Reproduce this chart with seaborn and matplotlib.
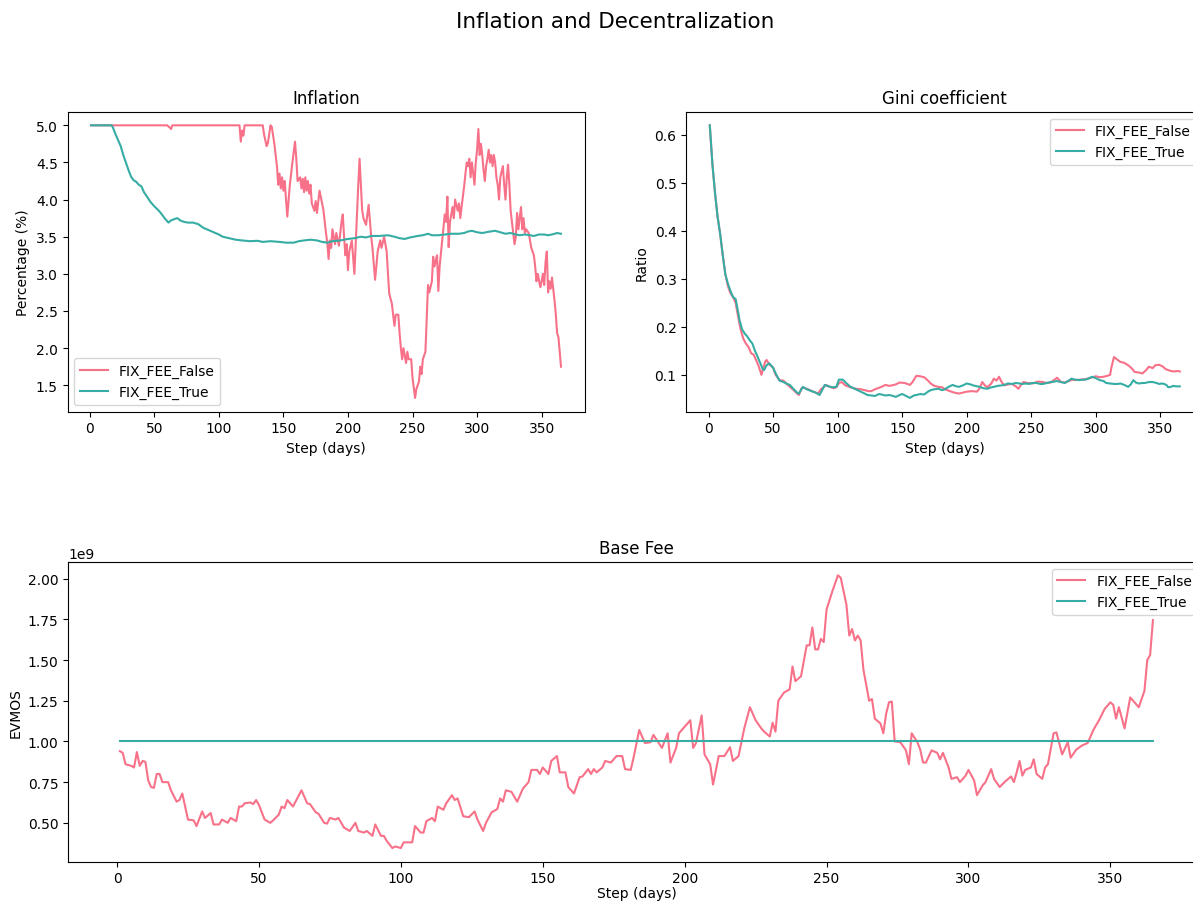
import numpy as np
import pandas as pd
import matplotlib
matplotlib.use("Agg")
import matplotlib.pyplot as plt
import seaborn as sns

SCENARIOS = ["FIX_FEE_False", "FIX_FEE_True"]

# ---- Inflation (%) ----
inflation_false_days = [
    1, 20, 40, 60, 62, 63, 64, 100, 116, 117, 118, 119, 120, 134, 135, 137, 138, 140, 141, 143,
    145, 146, 147, 148, 149, 150, 151, 152, 153, 155, 157, 159, 160, 161, 163, 164, 165, 166, 167, 168,
    169, 170, 171, 172, 174, 175, 176, 178, 180, 181, 183, 184, 185, 186, 187, 188, 190, 191, 193, 195,
    196, 197, 198, 199, 200, 201, 203, 205, 206, 208, 209, 210, 211, 212, 214, 216, 218, 219, 221, 222,
    223, 225, 226, 228, 230, 231, 232, 234, 235, 236, 237, 239, 240, 241, 242, 243, 244, 245, 246, 247,
    249, 250, 252, 253, 255, 256, 257, 258, 260, 261, 262, 263, 265, 266, 267, 269, 270, 271, 273, 275,
    276, 277, 278, 279, 281, 282, 283, 285, 286, 287, 288, 290, 291, 292, 293, 294, 295, 296, 298, 299,
    300, 301, 302, 303, 304, 305, 306, 307, 308, 309, 310, 311, 312, 313, 314, 315, 316, 317, 318, 320,
    321, 322, 323, 324, 325, 326, 327, 328, 329, 330, 331, 332, 333, 334, 335, 336, 337, 338, 340, 341,
    342, 344, 345, 346, 347, 349, 350, 351, 352, 353, 354, 355, 356, 357, 358, 359, 360, 361, 362, 363,
    364, 365,
]
inflation_false = [
    5.0, 5.0, 5.0, 5.0, 4.97, 4.95, 5.0, 5.0, 5.0, 4.78, 4.93, 4.86, 5.0, 5.0, 4.88, 4.72, 4.76, 5.0, 4.98, 4.75,
    4.45, 4.2, 4.35, 4.15, 4.3, 4.12, 4.25, 4.0, 3.77, 4.2, 4.5, 4.78, 4.55, 4.25, 4.3, 4.15, 4.28, 4.1, 4.3, 4.12,
    4.25, 4.08, 4.2, 3.95, 3.85, 3.98, 3.82, 4.12, 3.95, 3.86, 3.55, 3.42, 3.2, 3.45, 3.35, 3.6, 3.4, 3.55, 3.38, 3.7,
    3.8, 3.5, 3.25, 3.4, 3.05, 3.3, 3.45, 3.0, 3.4, 4.2, 4.55, 4.2, 3.86, 3.75, 3.66, 3.93, 3.5, 3.35, 2.92, 3.1,
    3.3, 3.45, 3.35, 3.5, 3.3, 3.0, 2.73, 2.6, 2.45, 2.3, 2.45, 2.45, 2.2, 2.0, 1.85, 2.0, 1.9, 1.8, 1.95, 1.85,
    1.85, 1.6, 1.33, 1.45, 1.55, 1.75, 1.65, 1.85, 1.95, 2.4, 2.85, 2.75, 2.9, 3.23, 3.1, 3.25, 2.77, 3.1, 3.45, 3.8,
    3.7, 4.04, 3.36, 3.7, 3.9, 3.75, 4.0, 3.85, 3.95, 3.75, 3.9, 4.18, 4.35, 4.5, 4.45, 4.55, 4.3, 4.5, 4.2, 4.5,
    4.67, 4.95, 4.6, 4.75, 4.6, 4.4, 4.25, 4.45, 4.55, 4.67, 4.5, 4.6, 4.45, 4.6, 4.5, 4.3, 4.2, 4.0, 4.3, 4.45,
    4.2, 4.0, 4.3, 4.47, 4.2, 3.85, 3.7, 3.55, 3.4, 3.5, 3.82, 3.6, 3.75, 3.9, 3.6, 3.75, 3.55, 3.6, 3.55, 3.45,
    3.35, 3.25, 3.1, 2.9, 3.0, 2.82, 2.9, 3.0, 2.85, 3.15, 3.3, 2.75, 2.9, 2.8, 2.95, 2.8, 2.64, 2.45, 2.2, 2.15,
    1.95, 1.75,
]
inflation_true_days = [
    1, 17, 18, 20, 22, 24, 26, 28, 30, 32, 34, 36, 38, 40, 42, 44, 47, 50, 53, 55,
    58, 61, 63, 66, 68, 70, 73, 76, 80, 84, 88, 92, 96, 100, 103, 108, 113, 118, 124, 130,
    134, 140, 147, 152, 158, 162, 166, 171, 176, 180, 184, 188, 194, 200, 205, 210, 214, 218, 224, 231,
    236, 240, 244, 248, 254, 258, 262, 265, 270, 275, 280, 286, 290, 293, 296, 300, 304, 307, 310, 314,
    318, 322, 326, 330, 333, 337, 341, 344, 348, 352, 355, 358, 362, 365,
]
inflation_true = [
    5.0, 5.0, 4.97, 4.88, 4.8, 4.72, 4.6, 4.5, 4.4, 4.31, 4.26, 4.24, 4.2, 4.18, 4.1, 4.05, 3.97, 3.91, 3.86, 3.82,
    3.75, 3.69, 3.72, 3.74, 3.75, 3.72, 3.7, 3.69, 3.69, 3.67, 3.62, 3.59, 3.56, 3.53, 3.5, 3.48, 3.46, 3.45, 3.44, 3.445,
    3.43, 3.44, 3.43, 3.42, 3.42, 3.44, 3.45, 3.46, 3.45, 3.43, 3.42, 3.44, 3.45, 3.47, 3.48, 3.5, 3.49, 3.51, 3.51, 3.52,
    3.5, 3.48, 3.47, 3.49, 3.51, 3.52, 3.54, 3.52, 3.52, 3.53, 3.54, 3.54, 3.55, 3.57, 3.58, 3.56, 3.55, 3.56, 3.57, 3.58,
    3.56, 3.54, 3.55, 3.53, 3.52, 3.53, 3.52, 3.51, 3.53, 3.53, 3.52, 3.53, 3.55, 3.54,
]

# ---- Gini coefficient ----
gini_false_days = [
    1, 2, 3, 5, 7, 9, 11, 13, 15, 17, 19, 21, 23, 25, 27, 29, 31, 33, 35, 37,
    39, 41, 42, 44, 45, 47, 50, 52, 55, 58, 61, 63, 66, 69, 70, 72, 74, 77, 80, 83,
    85, 87, 89, 91, 94, 97, 99, 101, 103, 106, 110, 114, 118, 121, 124, 126, 129, 131, 134, 137,
    140, 142, 145, 148, 152, 156, 158, 161, 164, 167, 170, 172, 175, 178, 181, 183, 186, 189, 192, 194,
    197, 200, 204, 208, 210, 212, 214, 216, 219, 221, 223, 225, 227, 229, 232, 235, 238, 240, 242, 244,
    247, 251, 255, 259, 262, 265, 268, 270, 273, 276, 279, 282, 284, 288, 292, 296, 300, 303, 306, 309,
    311, 312, 314, 316, 319, 322, 325, 328, 330, 333, 336, 339, 341, 344, 346, 349, 352, 354, 356, 358,
    361, 363, 365,
]
gini_false = [
    0.62, 0.58, 0.54, 0.48, 0.43, 0.394, 0.35, 0.31, 0.285, 0.27, 0.262, 0.25, 0.22, 0.193, 0.175, 0.165, 0.158, 0.145, 0.142, 0.13,
    0.117, 0.1, 0.11, 0.128, 0.131, 0.122, 0.115, 0.1, 0.089, 0.088, 0.08, 0.075, 0.068, 0.06, 0.058, 0.072, 0.073, 0.07, 0.066, 0.063,
    0.061, 0.07, 0.074, 0.079, 0.075, 0.072, 0.074, 0.083, 0.085, 0.078, 0.074, 0.071, 0.07, 0.068, 0.066, 0.066, 0.07, 0.072, 0.075, 0.079,
    0.077, 0.078, 0.08, 0.084, 0.083, 0.079, 0.085, 0.098, 0.097, 0.095, 0.088, 0.082, 0.077, 0.075, 0.074, 0.07, 0.067, 0.064, 0.062, 0.061,
    0.063, 0.065, 0.066, 0.065, 0.072, 0.085, 0.078, 0.074, 0.082, 0.092, 0.088, 0.096, 0.085, 0.078, 0.08, 0.081, 0.076, 0.071, 0.079, 0.085,
    0.083, 0.082, 0.086, 0.085, 0.083, 0.084, 0.09, 0.094, 0.085, 0.084, 0.087, 0.09, 0.089, 0.09, 0.091, 0.094, 0.097, 0.095, 0.096, 0.098,
    0.1, 0.115, 0.137, 0.133, 0.127, 0.125, 0.12, 0.113, 0.106, 0.105, 0.103, 0.11, 0.117, 0.114, 0.12, 0.121, 0.117, 0.112, 0.11, 0.108,
    0.107, 0.108, 0.107,
]
gini_true_days = [
    1, 2, 3, 5, 7, 9, 11, 13, 15, 17, 19, 21, 23, 24, 26, 28, 30, 32, 34, 36,
    38, 40, 42, 43, 45, 47, 50, 52, 55, 58, 61, 63, 66, 69, 70, 72, 73, 76, 80, 83,
    86, 88, 90, 93, 96, 99, 101, 104, 107, 110, 114, 118, 121, 123, 126, 129, 132, 134, 137, 140,
    143, 145, 148, 150, 153, 156, 159, 161, 164, 167, 170, 172, 175, 178, 181, 183, 186, 189, 192, 194,
    197, 200, 203, 205, 208, 210, 213, 216, 219, 221, 224, 227, 230, 232, 235, 238, 241, 243, 246, 248,
    251, 254, 257, 259, 262, 265, 268, 270, 273, 276, 279, 281, 284, 287, 290, 292, 295, 297, 300, 303,
    306, 308, 311, 314, 317, 319, 322, 325, 327, 329, 331, 333, 336, 338, 341, 344, 347, 349, 351, 353,
    355, 356, 358, 360, 362, 365,
]
gini_true = [
    0.62, 0.58, 0.54, 0.48, 0.43, 0.394, 0.35, 0.31, 0.29, 0.275, 0.262, 0.258, 0.23, 0.214, 0.195, 0.186, 0.18, 0.172, 0.165, 0.15,
    0.138, 0.125, 0.112, 0.11, 0.12, 0.124, 0.115, 0.103, 0.088, 0.085, 0.081, 0.079, 0.07, 0.062, 0.061, 0.07, 0.075, 0.07, 0.066, 0.063,
    0.058, 0.068, 0.079, 0.076, 0.074, 0.075, 0.09, 0.09, 0.082, 0.075, 0.07, 0.065, 0.061, 0.058, 0.057, 0.056, 0.06, 0.059, 0.057, 0.058,
    0.056, 0.054, 0.058, 0.06, 0.056, 0.052, 0.057, 0.058, 0.06, 0.059, 0.065, 0.068, 0.07, 0.071, 0.068, 0.07, 0.075, 0.079, 0.076, 0.075,
    0.078, 0.082, 0.08, 0.078, 0.076, 0.075, 0.072, 0.071, 0.074, 0.075, 0.077, 0.078, 0.08, 0.082, 0.081, 0.083, 0.082, 0.081, 0.082, 0.081,
    0.083, 0.083, 0.081, 0.081, 0.083, 0.085, 0.086, 0.087, 0.085, 0.083, 0.088, 0.092, 0.09, 0.089, 0.09, 0.09, 0.093, 0.096, 0.093, 0.089,
    0.087, 0.083, 0.082, 0.081, 0.081, 0.082, 0.079, 0.075, 0.08, 0.089, 0.084, 0.082, 0.083, 0.083, 0.085, 0.085, 0.083, 0.081, 0.082, 0.081,
    0.078, 0.074, 0.075, 0.077, 0.076, 0.076,
]

# ---- Base fee (in units of 1e9 EVMOS) ----
FEE_UNIT = 1e9
base_fee_false_days = [
    1, 2, 3, 5, 6, 7, 8, 9, 10, 11, 12, 13, 14, 15, 16, 18, 19, 21, 22, 23,
    25, 27, 28, 30, 31, 33, 34, 36, 37, 39, 40, 42, 43, 44, 45, 47, 48, 49, 50, 52,
    54, 55, 57, 58, 59, 60, 62, 65, 67, 68, 70, 71, 73, 74, 75, 77, 78, 80, 82, 84,
    85, 87, 88, 90, 91, 93, 94, 95, 97, 98, 100, 101, 103, 104, 105, 107, 108, 109, 111, 112,
    113, 115, 116, 118, 119, 120, 122, 124, 126, 127, 129, 130, 132, 134, 135, 136, 137, 139, 141, 143,
    145, 146, 148, 149, 150, 152, 153, 155, 156, 158, 159, 161, 163, 164, 166, 167, 168, 169, 171, 172,
    174, 176, 178, 179, 181, 182, 184, 186, 188, 189, 192, 194, 195, 197, 198, 202, 203, 204, 206, 207,
    209, 210, 212, 214, 216, 217, 219, 221, 223, 225, 227, 228, 230, 231, 232, 233, 235, 237, 238, 239,
    241, 243, 244, 245, 246, 247, 248, 249, 250, 252, 254, 255, 257, 258, 259, 260, 261, 262, 263, 265,
    266, 267, 269, 270, 271, 272, 273, 274, 276, 278, 279, 280, 282, 283, 284, 285, 287, 289, 290, 291,
    293, 294, 296, 297, 299, 300, 302, 303, 305, 306, 308, 309, 311, 313, 315, 316, 317, 318, 319, 320,
    322, 323, 324, 326, 327, 328, 330, 331, 333, 335, 336, 338, 340, 342, 344, 346, 348, 350, 351, 352,
    353, 355, 357, 360, 362, 363, 364, 365,
]
base_fee_false = [
    0.94, 0.93, 0.86, 0.85, 0.84, 0.935, 0.85, 0.88, 0.875, 0.76, 0.72, 0.715, 0.80, 0.80, 0.75, 0.75, 0.70, 0.63, 0.64, 0.68,
    0.52, 0.515, 0.48, 0.57, 0.53, 0.56, 0.49, 0.49, 0.52, 0.50, 0.53, 0.51, 0.60, 0.60, 0.62, 0.625, 0.615, 0.64, 0.61, 0.52,
    0.50, 0.515, 0.55, 0.60, 0.59, 0.64, 0.60, 0.70, 0.62, 0.615, 0.565, 0.555, 0.50, 0.495, 0.53, 0.52, 0.53, 0.47, 0.45, 0.50,
    0.45, 0.44, 0.45, 0.42, 0.49, 0.42, 0.42, 0.39, 0.345, 0.355, 0.345, 0.38, 0.38, 0.38, 0.48, 0.44, 0.44, 0.51, 0.53, 0.51,
    0.60, 0.58, 0.62, 0.67, 0.64, 0.65, 0.54, 0.535, 0.57, 0.52, 0.45, 0.50, 0.565, 0.585, 0.65, 0.63, 0.70, 0.69, 0.63, 0.71,
    0.75, 0.825, 0.825, 0.80, 0.84, 0.80, 0.88, 0.91, 0.81, 0.81, 0.72, 0.68, 0.78, 0.785, 0.83, 0.80, 0.83, 0.81, 0.84, 0.88,
    0.87, 0.91, 0.91, 0.83, 0.825, 0.90, 1.07, 0.99, 0.995, 1.04, 0.96, 1.05, 0.87, 0.96, 1.05, 1.13, 0.96, 0.99, 1.16, 0.92,
    0.86, 0.735, 0.91, 0.91, 0.965, 0.88, 0.91, 1.08, 1.21, 1.13, 1.08, 1.06, 1.03, 1.115, 1.06, 1.25, 1.30, 1.32, 1.46, 1.37,
    1.40, 1.59, 1.59, 1.70, 1.565, 1.565, 1.63, 1.61, 1.81, 1.92, 2.02, 2.005, 1.84, 1.65, 1.69, 1.62, 1.65, 1.62, 1.44, 1.25,
    1.26, 1.14, 1.11, 1.05, 1.17, 1.24, 1.245, 1.0, 0.995, 0.945, 0.86, 1.05, 0.995, 0.95, 0.87, 0.87, 0.945, 0.93, 0.89, 0.93,
    0.84, 0.77, 0.78, 0.75, 0.79, 0.825, 0.76, 0.67, 0.73, 0.75, 0.83, 0.77, 0.72, 0.755, 0.785, 0.75, 0.81, 0.88, 0.79, 0.825,
    0.84, 0.89, 0.80, 0.77, 0.84, 0.86, 1.05, 1.055, 0.92, 0.995, 0.90, 0.95, 0.975, 0.99, 1.07, 1.13, 1.20, 1.24, 1.225, 1.14,
    1.21, 1.08, 1.27, 1.21, 1.31, 1.50, 1.53, 1.745,
]
base_fee_true_days = [1, 365]
base_fee_true = [1.0, 1.0]


def long_frame(false_days, false_vals, true_days, true_vals, scale=1.0):
    parts = []
    for name, days, vals in [(SCENARIOS[0], false_days, false_vals),
                             (SCENARIOS[1], true_days, true_vals)]:
        parts.append(pd.DataFrame({
            "step": days,
            "value": np.asarray(vals, dtype=float) * scale,
            "scenario": name,
        }))
    return pd.concat(parts, ignore_index=True)


palette = sns.color_palette("husl", 2)

W, H = 1193, 903
fig = plt.figure(figsize=(W / 100, H / 100), dpi=100)


def frac(left, top, right, bottom):
    return [left / W, 1 - bottom / H, (right - left) / W, (bottom - top) / H]


ax_inf = fig.add_axes(frac(67.5, 112.7, 584.5, 412.5))
ax_gini = fig.add_axes(frac(686.3, 112.7, 1203.3, 412.5))
ax_fee = fig.add_axes(frac(68.2, 562.7, 1204.6, 862.7))

panels = [
    (ax_inf, long_frame(inflation_false_days, inflation_false, inflation_true_days, inflation_true),
     "Inflation", "Percentage (%)", "lower left", 4.0),
    (ax_gini, long_frame(gini_false_days, gini_false, gini_true_days, gini_true),
     "Gini coefficient", "Ratio", "upper right", 4.0),
    (ax_fee, long_frame(base_fee_false_days, base_fee_false, base_fee_true_days, base_fee_true, FEE_UNIT),
     "Base Fee", "EVMOS", "upper right", 0.5),
]

for ax, df, title, ylabel, loc, xpad in panels:
    sns.lineplot(data=df, x="step", y="value", hue="scenario", hue_order=SCENARIOS,
                 palette=palette, errorbar=None, linewidth=1.5, ax=ax)
    ax.set_title(title, fontsize=12)
    ax.set_xlabel("Step (days)", fontsize=10, labelpad=xpad)
    ax.set_ylabel(ylabel, fontsize=10)
    ax.tick_params(labelsize=10)
    ax.set_xticks([0, 50, 100, 150, 200, 250, 300, 350])
    ax.legend(loc=loc, fontsize=10)

fig.suptitle("Inflation and Decentralization", fontsize=15.5, x=0.516, y=1 - 22 / H, va="center")

fig.savefig("out.png", dpi=100)
